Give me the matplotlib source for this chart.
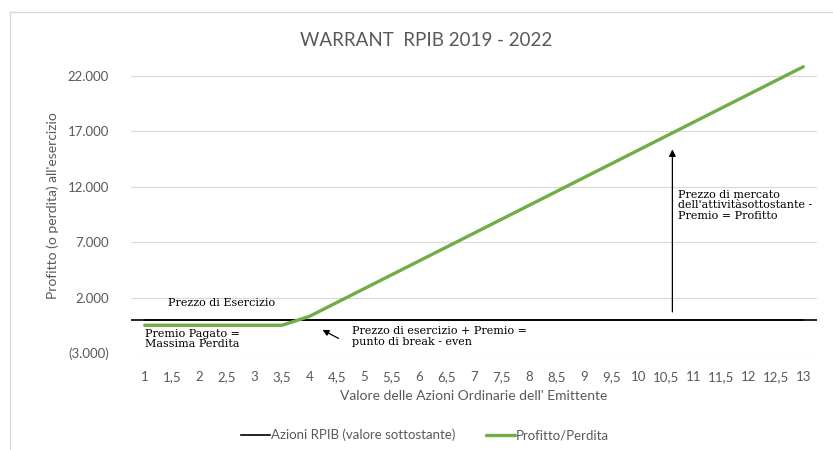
import numpy as np
import matplotlib
matplotlib.use("Agg")
import matplotlib.pyplot as plt
from matplotlib.lines import Line2D

# dati
valori_azione = ["1", "1,5", "2", "2,5", "3", "3,5", "4", "4,5", "5", "5,5", "6", "6,5",
                 "7", "7,5", "8", "8,5", "9", "9,5", "10", "10,5", "11", "11,5", "12", "12,5", "13"]
profitto = [-500, -500, -500, -500, -500, -500, 300, 1550, 2800, 4050, 5300, 6550,
            7800, 9050, 10300, 11550, 12800, 14050, 15300, 16550, 17800, 19050, 20300, 21550, 22800]
azioni = [0] * len(valori_azione)
y_ticks = [-3000, 2000, 7000, 12000, 17000, 22000]
y_labels = ["(3.000)", "2.000", "7.000", "12.000", "17.000", "22.000"]

grigio = "#595959"
verde = "#70AD47"
sans = ["Lato", "DejaVu Sans"]
serif = "DejaVu Serif"

fig = plt.figure(figsize=(8.33, 4.5), dpi=100)
ax = fig.add_axes([131/833, 1 - 353/450, 686/833, 294/450])

x = np.arange(len(valori_azione))
ax.axhline(0, color="black", lw=1.2, zorder=2)
l1, = ax.plot(x, azioni, color="black", lw=1.2, zorder=2)
l2, = ax.plot(x, profitto, color=verde, lw=2.4, zorder=3, solid_capstyle="round")

ax.set_xlim(-0.5, len(x) - 0.5)
ax.set_ylim(-3000, 23500)
ax.set_yticks(y_ticks)
ax.set_yticklabels(y_labels, family=sans, fontsize=9.5, color=grigio)
ax.set_xticks(x)
ax.set_xticklabels(valori_azione, family=sans, fontsize=9.5, color=grigio)
ax.tick_params(length=0, pad=13)
ax.tick_params(axis="y", pad=16)
ax.grid(axis="y", color="#D9D9D9", lw=0.8)
ax.set_axisbelow(True)
for s in ax.spines.values():
    s.set_visible(False)

ax.set_xlabel("Valore delle Azioni Ordinarie dell' Emittente", family=sans,
              fontsize=10, color=grigio, labelpad=5)
ax.set_ylabel("Profitto (o perdita) all'esercizio", family=sans,
              fontsize=10, color=grigio, labelpad=6)

fig.text(0.511, 1 - 40/450, "WARRANT  RPIB 2019 - 2022", family=sans, fontsize=13.5,
         color=grigio, ha="center", va="center")

# annotazioni
ax.text(2.81, 1550, "Prezzo di Esercizio", family=serif, fontsize=8, ha="center", va="center")
ax.text(0, -1750, "Premio Pagato =\nMassima Perdita", family=serif, fontsize=8,
        ha="left", va="center", linespacing=1.05)
ax.text(7.55, -1500, "Prezzo di esercizio + Premio =\npunto di break - even", family=serif,
        fontsize=8, ha="left", va="center", linespacing=1.05)
ax.annotate("", xy=(6.39, -800), xytext=(7.15, -1800),
            arrowprops=dict(arrowstyle="-|>", color="black", lw=0.9, mutation_scale=9))
ax.annotate("", xy=(19.23, 15600), xytext=(19.23, 450),
            arrowprops=dict(arrowstyle="-|>", color="black", lw=0.9, mutation_scale=10))
ax.text(19.45, 10300, "Prezzo di mercato\ndell'attivitàsottostante -\nPremio = Profitto",
        family=serif, fontsize=8, ha="left", va="center", linespacing=1.05)

leg = fig.legend([l1, l2], ["Azioni RPIB (valore sottostante)", "Profitto/Perdita"],
                 loc="center", bbox_to_anchor=(0.51, 1 - 435/450), ncol=2, frameon=False,
                 prop={"family": sans, "size": 9.5}, handlelength=2.2, handletextpad=0.1,
                 columnspacing=2.3)
for t in leg.get_texts():
    t.set_color(grigio)

# cornice del grafico
fig.add_artist(Line2D([10/833, 10/833], [0, 1 - 12/450], transform=fig.transFigure,
                      color="#D9D9D9", lw=1))
fig.add_artist(Line2D([10/833, 1], [1 - 12/450, 1 - 12/450], transform=fig.transFigure,
                      color="#D9D9D9", lw=1))

fig.savefig("out.png", dpi=100)
